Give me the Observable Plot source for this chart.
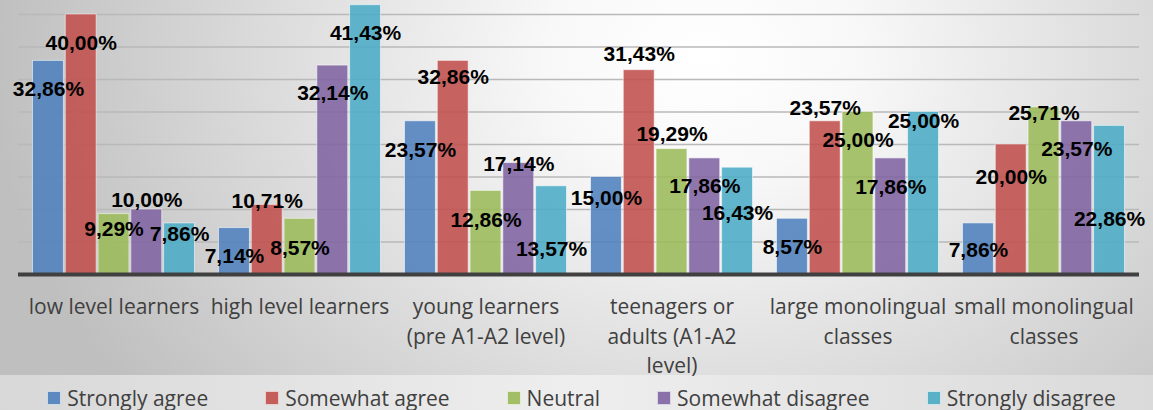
<!DOCTYPE html>
<html>
<head>
<meta charset="utf-8">
<script src="https://cdn.jsdelivr.net/npm/d3@7"></script>
<script src="https://cdn.jsdelivr.net/npm/@observablehq/plot@0.6"></script>
<style>
  html, body { margin: 0; padding: 0; background: #ffffff; }
  #wrap { width: 1153px; height: 410px; position: relative; overflow: hidden; font-family: "Open Sans", sans-serif; }
  #chart { width: 1153px; height: 375px; background: radial-gradient(ellipse 62% 150% at 61% 15%, #ffffff 0%, #f8f8f8 22%, #bfbfbf 100%); }
  #legend { box-sizing: border-box; width: 1153px; height: 35px; padding-top: 10px; padding-left: 10px;
    display: flex; align-items: center; justify-content: center; gap: 57px;
    background: linear-gradient(90deg, #d8d8d8 0%, #eeeeee 50%, #dadada 100%); }
  .item { display: flex; align-items: center; color: #404040; font-size: 21px; white-space: nowrap; }
  .sw { width: 12px; height: 12px; border: 1px solid rgba(255,255,255,0.7); margin-right: 6px; }
</style>
</head>
<body>
<div id="wrap">
  <div id="chart"></div>
  <div id="legend"></div>
</div>
<script>
const categories = [
  "low level learners",
  "high level learners",
  "young learners\n(pre A1-A2 level)",
  "teenagers or\nadults (A1-A2\nlevel)",
  "large monolingual\nclasses",
  "small monolingual\nclasses"
];
const seriesNames = ["Strongly agree", "Somewhat agree", "Neutral", "Somewhat disagree", "Strongly disagree"];
const stronglyAgree    = [32.86, 7.14, 23.57, 15.00, 8.57, 7.86];
const somewhatAgree    = [40.00, 10.71, 32.86, 31.43, 23.57, 20.00];
const neutral          = [9.29, 8.57, 12.86, 19.29, 25.00, 25.71];
const somewhatDisagree = [10.00, 32.14, 17.14, 17.86, 17.86, 23.57];
const stronglyDisagree = [7.86, 41.43, 13.57, 16.43, 25.00, 22.86];
const seriesValues = [stronglyAgree, somewhatAgree, neutral, somewhatDisagree, stronglyDisagree];
const gridTicks = [5, 10, 15, 20, 25, 30, 35, 40];

// styling / layout (not data)
const colors = ["#4F81BD", "#C0504D", "#9BBB59", "#8064A2", "#4BACC6"];
// label vertical offsets in px relative to bar top, per category then per series
const labelShift = [
  [28, 29, 15, -9, 11],
  [28, -4, 29, 28, 28],
  [29, 16, 29, 1, 63],
  [21, -16, -15, 28, 46],
  [28, -13, 28, 29, 9],
  [27, 33, 6, 28, 93]
];

const W = 1153, H = 375, mL = 18, mR = 14, mB = 101;
const padIn = 0.122, padOut = 0.064;
const step = (W - mL - mR) / (categories.length - padIn + 2 * padOut);
const bw = step * (1 - padIn);
const sub = bw / seriesNames.length;

const fmt = v => v.toFixed(2).replace(".", ",") + "%";

const marks = [];
marks.push(Plot.ruleY(gridTicks, {stroke: "#b9b9b9", strokeWidth: 1.6}));

seriesNames.forEach((s, i) => {
  const rows = categories.map((c, k) => ({category: c, value: seriesValues[i][k]}));
  marks.push(Plot.barY(rows, {
    x: "category", y: "value",
    fill: colors[i], fillOpacity: 0.88,
    stroke: "#ffffff", strokeOpacity: 0.55, strokeWidth: 1,
    insetLeft: i * sub + 0.5, insetRight: (seriesNames.length - 1 - i) * sub + 0.5
  }));
});

marks.push(Plot.ruleY([0], {stroke: "#404040", strokeWidth: 4}));

seriesNames.forEach((s, i) => {
  categories.forEach((c, k) => {
    marks.push(Plot.text([{category: c, value: seriesValues[i][k]}], {
      x: "category", y: "value", text: d => fmt(d.value),
      dx: (i - (seriesNames.length - 1) / 2) * sub,
      dy: labelShift[k][i],
      fontSize: 21, fontWeight: "bold", fill: "#000000",
      fontFamily: "Liberation Sans, Arial, sans-serif",
      textAnchor: "middle"
    }));
  });
});

marks.push(Plot.text(categories, {
  x: d => d, y: () => 0, text: d => d,
  lineAnchor: "top", dy: 19, lineHeight: 1.4,
  fontSize: 21, fill: "#404040", fontFamily: "Open Sans, sans-serif", textAnchor: "middle"
}));

const chart = Plot.plot({
  width: W, height: H,
  marginLeft: mL, marginRight: mR, marginTop: 0, marginBottom: mB,
  style: {background: "transparent", overflow: "visible"},
  x: {type: "band", domain: categories, paddingInner: padIn, paddingOuter: padOut, axis: null},
  y: {domain: [0, 42.15], axis: null},
  marks
});
document.getElementById("chart").appendChild(chart);

const legend = document.getElementById("legend");
seriesNames.forEach((s, i) => {
  const it = document.createElement("div");
  it.className = "item";
  const sw = document.createElement("span");
  sw.className = "sw";
  sw.style.background = colors[i];
  sw.style.opacity = 0.9;
  it.appendChild(sw);
  const t = document.createElement("span");
  t.textContent = s;
  it.appendChild(t);
  legend.appendChild(it);
});
</script>
</body>
</html>
